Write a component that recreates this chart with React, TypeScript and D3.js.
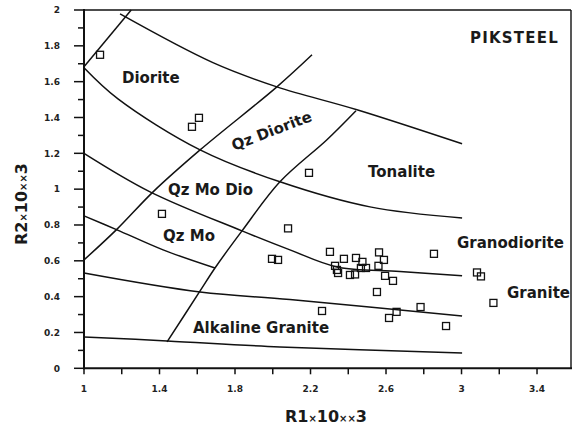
import React from "react";
import * as d3 from "d3";

// ---- data ----
const xTickValues = [1, 1.4, 1.8, 2.2, 2.6, 3, 3.4];
const xTickLabels = ["1", "1.4", "1.8", "2.2", "2.6", "3", "3.4"];
const xMinorTicks = [1.2, 1.6, 2.0, 2.4, 2.8, 3.2];
const yTickValues = [0, 0.2, 0.4, 0.6, 0.8, 1, 1.2, 1.4, 1.6, 1.8, 2];
const yTickLabels = ["0", "0.2", "0.4", "0.6", "0.8", "1", "1.2", "1.4", "1.6", "1.8", "2"];
const yMinorTicks = [0.1, 0.3, 0.5, 0.7, 0.9, 1.1, 1.3, 1.5, 1.7, 1.9];

// sample points (R1, R2 in thousands)
const sampleR1 = [
  1.085, 1.572, 1.609, 2.192, 1.413, 2.081, 1.996, 2.028, 2.303, 2.377, 2.441, 2.475,
  2.563, 2.589, 2.33, 2.34, 2.346, 2.409, 2.436, 2.467, 2.494, 2.56, 2.595, 2.637,
  2.552, 2.854, 3.082, 3.103, 3.169, 2.261, 2.656, 2.616, 2.783, 2.918,
];
const sampleR2 = [
  1.75, 1.348, 1.398, 1.091, 0.862, 0.781, 0.611, 0.605, 0.65, 0.611, 0.616, 0.594,
  0.647, 0.605, 0.572, 0.549, 0.532, 0.521, 0.524, 0.56, 0.56, 0.572, 0.516, 0.488,
  0.426, 0.639, 0.535, 0.513, 0.365, 0.32, 0.315, 0.281, 0.342, 0.236,
];

// field boundaries [R1, R2]
const boundaryTopLeft: [number, number][] = [[1, 1.683], [1.25, 2.0]];
const boundaryTop: [number, number][] = [[1.191, 1.978], [1.683, 1.706], [2.022, 1.571], [2.446, 1.443], [3.003, 1.253]];
const boundaryDiorite: [number, number][] = [[1, 1.678], [1.18, 1.504], [1.615, 1.219], [2.038, 1.041], [2.515, 0.901], [3.003, 0.839]];
const boundaryQzMoDio: [number, number][] = [[1, 1.2], [1.35, 0.985], [1.837, 0.767], [2.091, 0.661], [2.34, 0.566], [2.674, 0.541], [3.003, 0.516]];
const boundaryQzMo: [number, number][] = [[1, 0.851], [1.175, 0.773], [1.419, 0.661], [1.694, 0.56]];
const boundaryGranite: [number, number][] = [[1, 0.532], [1.615, 0.426], [2.091, 0.384], [3.003, 0.292]];
const boundaryBottom: [number, number][] = [[1, 0.175], [1.44, 0.153], [2.038, 0.119], [3.003, 0.086]];
const boundaryDiagA: [number, number][] = [[1, 0.605], [1.175, 0.777], [1.366, 0.985], [1.615, 1.219], [2.022, 1.571], [2.208, 1.75]];
const boundaryDiagB: [number, number][] = [[1.44, 0.147], [1.615, 0.432], [1.694, 0.56], [1.837, 0.767], [2.038, 1.041], [2.287, 1.276], [2.441, 1.438]];

const boundaries = [
  boundaryTopLeft, boundaryTop, boundaryDiorite, boundaryQzMoDio, boundaryQzMo,
  boundaryGranite, boundaryBottom, boundaryDiagA, boundaryDiagB,
];

const fieldNames = ["Diorite", "Qz Diorite", "Tonalite", "Qz Mo Dio", "Qz Mo", "Granodiorite", "Granite", "Alkaline Granite"];
const fieldR1 = [1.201, 1.795, 2.505, 1.445, 1.419, 2.976, 3.241, 1.577];
const fieldR2 = [1.594, 1.214, 1.069, 0.968, 0.711, 0.672, 0.393, 0.197];
const fieldAngle = [0, -21, 0, 0, 0, 0, 0, 0];

const titleText = "PIKSTEEL";

export default function App() {
  const W = 572, H = 427;
  const x = d3.scaleLinear().domain([1, 3.58]).range([84, 571]);
  const y = d3.scaleLinear().domain([0, 2]).range([368.3, 10]);
  const line = d3
    .line<[number, number]>()
    .x((d) => x(d[0]))
    .y((d) => y(d[1]))
    .curve(d3.curveCatmullRom.alpha(0.5));

  const font = "'DejaVu Sans', sans-serif";
  const x0 = x(1), xEnd = x(3.58), y0 = y(0), yTop = y(2);
  const sq = 7;

  return (
    <div style={{ position: "absolute", left: 0, top: 0 }}>
      <svg width={W} height={H} style={{ display: "block", background: "#fff" }}>
        <rect x={0} y={0} width={W} height={H} fill="#fff" />
        {/* frame */}
        <line x1={x0} x2={xEnd} y1={yTop} y2={yTop} stroke="#111" strokeWidth={1.6} />
        <line x1={xEnd} x2={xEnd} y1={yTop} y2={y0} stroke="#111" strokeWidth={1.4} />
        <line x1={x0} x2={x0} y1={yTop - 1} y2={y0 + 1} stroke="#111" strokeWidth={2} />
        <line x1={x0 - 1} x2={W} y1={y0} y2={y0} stroke="#111" strokeWidth={2} />

        {/* x ticks */}
        {xTickValues.map((v, i) => (
          <g key={"xt" + i}>
            <line x1={x(v)} x2={x(v)} y1={y0} y2={y0 + 6} stroke="#111" strokeWidth={1.5} />
            <text x={x(v)} y={392} fontFamily={font} fontWeight="bold" fontSize={9} textAnchor="middle" fill="#222">
              {xTickLabels[i]}
            </text>
          </g>
        ))}
        {xMinorTicks.map((v, i) => (
          <line key={"xm" + i} x1={x(v)} x2={x(v)} y1={y0} y2={y0 + 6} stroke="#111" strokeWidth={1.5} />
        ))}

        {/* y ticks */}
        {yTickValues.map((v, i) => (
          <g key={"yt" + i}>
            <line x1={x0 - 10} x2={x0} y1={y(v)} y2={y(v)} stroke="#111" strokeWidth={1.5} />
            <text x={60} y={y(v) + 3.3} fontFamily={font} fontWeight="bold" fontSize={9} textAnchor="end" fill="#222">
              {yTickLabels[i]}
            </text>
          </g>
        ))}
        {yMinorTicks.map((v, i) => (
          <line key={"ym" + i} x1={x0 - 6} x2={x0} y1={y(v)} y2={y(v)} stroke="#111" strokeWidth={1.5} />
        ))}

        {/* boundaries */}
        {boundaries.map((b, i) => (
          <path key={"b" + i} d={line(b) || ""} fill="none" stroke="#111" strokeWidth={1.5} />
        ))}

        {/* field names */}
        {fieldNames.map((n, i) => (
          <text
            key={"f" + i}
            x={x(fieldR1[i])}
            y={y(fieldR2[i])}
            transform={fieldAngle[i] ? `rotate(${fieldAngle[i]} ${x(fieldR1[i])} ${y(fieldR2[i])})` : undefined}
            fontFamily={font}
            fontWeight="bold"
            fontSize={15}
            fill="#1a1a1a"
          >
            {n}
          </text>
        ))}

        <text x={x(3.045)} y={y(1.817)} fontFamily={font} fontWeight="bold" fontSize={15} letterSpacing={1.2} fill="#1a1a1a">
          {titleText}
        </text>

        {/* samples */}
        {sampleR1.map((v, i) => (
          <rect
            key={"p" + i}
            x={x(v) - sq / 2}
            y={y(sampleR2[i]) - sq / 2}
            width={sq}
            height={sq}
            fill="none"
            stroke="#111"
            strokeWidth={1.3}
          />
        ))}

        {/* axis titles */}
        <text x={326} y={422} fontFamily={font} fontWeight="bold" fontSize={16} textAnchor="middle" fill="#1a1a1a">
          R1<tspan fontSize={10}>×</tspan>10<tspan fontSize={10}>××</tspan>3
        </text>
        <text
          x={0}
          y={0}
          transform={`translate(27 204) rotate(-90)`}
          fontFamily={font}
          fontWeight="bold"
          fontSize={16}
          textAnchor="middle"
          fill="#1a1a1a"
        >
          R2<tspan fontSize={10}>×</tspan>10<tspan fontSize={10}>××</tspan>3
        </text>
      </svg>
    </div>
  );
}
